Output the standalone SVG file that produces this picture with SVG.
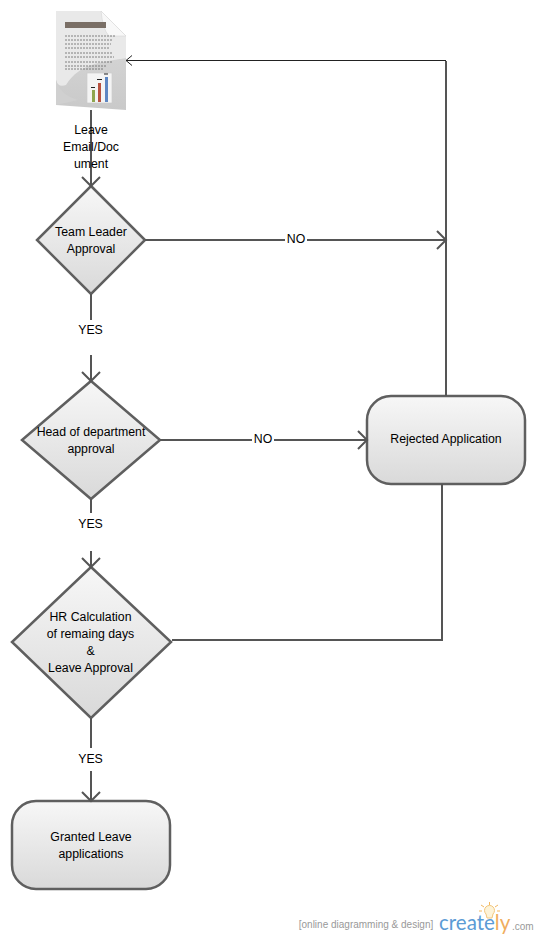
<svg xmlns="http://www.w3.org/2000/svg" width="537" height="940" viewBox="0 0 537 940">
<defs>
<linearGradient id="g" x1="0" y1="0" x2="0" y2="1"><stop offset="0" stop-color="#f7f7f7"/><stop offset="1" stop-color="#d9d9d9"/></linearGradient>
<linearGradient id="p" x1="0" y1="0" x2="0" y2="1"><stop offset="0" stop-color="#dcdcdc"/><stop offset="1" stop-color="#c9c9c9"/></linearGradient>
<marker id="a" markerUnits="userSpaceOnUse" markerWidth="24" markerHeight="24" refX="12" refY="12" orient="auto"><path d="M3 3L12 12L3 21" fill="none" stroke="#555" stroke-width="2"/></marker>
</defs>
<style>
text{font-family:"Liberation Sans",Arial,sans-serif;font-size:12.300px;fill:#000;text-anchor:middle}
.shape{fill:url(#g);stroke:#5f5f5f;stroke-width:2.500}
.c{fill:none;stroke:#555;stroke-width:2}
.arrow{marker-end:url(#a)}
.bg{fill:#fff}
.tl{fill:none;stroke:#666;stroke-width:.8;stroke-dasharray:2 1}
</style>
<g id="document">
<path d="M56 11H101L126 36V110L56 105Z" fill="url(#p)"/>
<path d="M56 11H101L126 36V58C105 62 80 62 66 85Q58 88 56 80Z" fill="#e9e9e9"/>
<path d="M56 80Q60 95 78 100L56 105Z" fill="#d0d0d0"/>
<path d="M101 11L126 36H109Q103 30 101 11Z" fill="#f8f8f8" stroke="#d0d0d0" stroke-width=".5"/>
<rect x="65" y="22" width="41" height="6" fill="#7a6f66"/>
<path class="tl" d="M65 36H116M65 40H113M65 44H111M65 48H110M65 53H112M65 57H114M65 62H112M65 66H107M65 69H103"/>
<rect x="87" y="73" width="25" height="30" fill="#f4f4f4" stroke="#ccc" stroke-width=".7"/>
<rect x="92" y="90" width="3" height="12" fill="#8fa64f"/><rect x="98" y="83" width="3" height="19" fill="#b8513f"/><rect x="105" y="77" width="3" height="25" fill="#5d86c2"/>
<path d="M91 87.500H95M97 79.500H102M104 74H108" stroke="#222" stroke-width="1"/>
</g>
<g id="team-leader">
<path class="shape" d="M91 186L145 240L91 294L37 240Z"/>
<text x="91" y="236">Team Leader</text>
<text x="91" y="253">Approval</text>
</g>
<g id="head-of-department">
<path class="shape" d="M91 381L160 440L91 499L22 440Z"/>
<text x="91" y="436">Head of department</text>
<text x="91" y="453">approval</text>
</g>
<g id="hr-calculation">
<path class="shape" d="M91 567L171 642L91 718L12 642Z"/>
<text x="90.500" y="621">HR Calculation</text>
<text x="90.500" y="638">of remaing days</text>
<text x="90.500" y="655">&amp;</text>
<text x="90.500" y="672">Leave Approval</text>
</g>
<g id="rejected-application">
<rect class="shape" x="367" y="396" width="158" height="88" rx="24"/>
<text x="446" y="443">Rejected Application</text>
</g>
<g id="granted-leave">
<rect class="shape" x="12" y="801" width="158" height="88" rx="24"/>
<text x="91" y="841">Granted Leave</text>
<text x="91" y="858">applications</text>
</g>
<g id="connectors">
<path class="c arrow" d="M91 110V186"/>
<path class="c arrow" d="M145 240H446"/>
<path class="c" d="M91 294V320"/>
<path class="c arrow" d="M91 355V381"/>
<path class="c arrow" d="M160 440H367"/>
<path class="c" d="M91 499V513"/>
<path class="c arrow" d="M91 551V567"/>
<path class="c" d="M91 718V748"/>
<path class="c arrow" d="M91 771V801"/>
<path class="c" d="M172 640H442V484"/>
<path class="c" d="M446 396V61"/>
<path d="M446 60.500H126M132 55.500L126 60.500L132 65.500" fill="none" stroke="#222" stroke-width="1"/>
<rect class="bg" x="285" y="232" width="22" height="14"/><text x="296" y="243">NO</text>
<rect class="bg" x="252" y="432" width="22" height="14"/><text x="263" y="443">NO</text>
<text x="90.500" y="334">YES</text>
<text x="90.500" y="528">YES</text>
<text x="90.500" y="763">YES</text>
<text x="91" y="134">Leave</text>
<text x="91" y="151">Email/Doc</text>
<text x="91" y="168">ument</text>
</g>
<g id="watermark">
<text x="366" y="928" style="font-size:10px;fill:#999">[online diagramming &amp; design]</text>
<path d="M486 914a5 5 0 1 1 7 0l-1 4h-5z" fill="#fdf3d8" stroke="#f3c77d" stroke-width="1"/>
<path d="M489.500 902v3M481 905l3 2M498 905l-3 2M479 911h3M500 911h-3" stroke="#f3b75f" stroke-width="1"/>
<text x="439" y="930" style="font-family:Lato,'Open Sans',sans-serif;font-size:20.500px;fill:#5b9bd5;text-anchor:start">create<tspan fill="#f0ad5e">ly</tspan></text>
<text x="512" y="930" style="font-size:10px;fill:#999;text-anchor:start">.com</text>
</g>
</svg>
